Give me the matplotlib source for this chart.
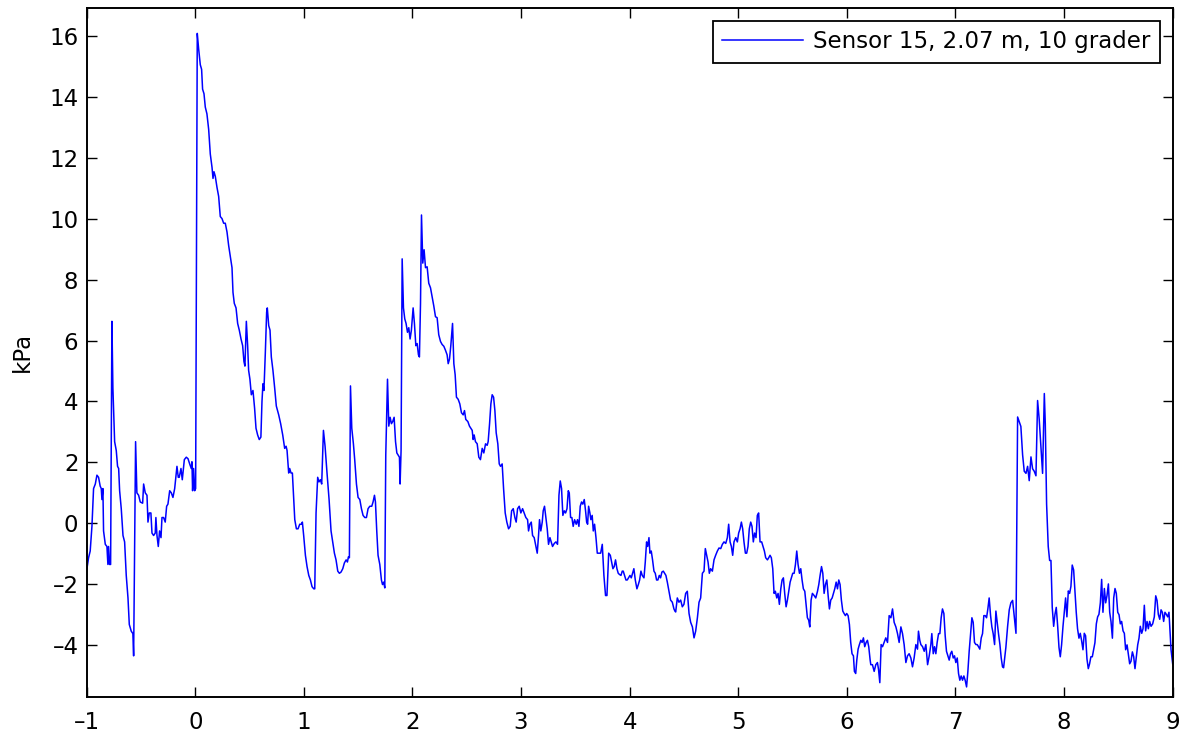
import matplotlib
matplotlib.use("Agg")
import matplotlib.pyplot as plt

# Time axis (s) and pressure (kPa)
t = [
    -0.998, -0.983, -0.968, -0.952, -0.937, -0.921, -0.906, -0.891, -0.876, -0.866,
    -0.860, -0.851, -0.845, -0.829, -0.814, -0.805, -0.799, -0.790, -0.780, -0.768,
    -0.759, -0.743, -0.728, -0.716, -0.706, -0.697, -0.682, -0.666, -0.651, -0.636,
    -0.620, -0.608, -0.590, -0.575, -0.568, -0.550, -0.538, -0.522, -0.507, -0.485,
    -0.476, -0.461, -0.445, -0.436, -0.424, -0.409, -0.399, -0.384, -0.369, -0.363,
    -0.353, -0.341, -0.329, -0.316, -0.307, -0.292, -0.277, -0.264, -0.252, -0.236,
    -0.221, -0.206, -0.190, -0.169, -0.157, -0.148, -0.132, -0.120, -0.101, -0.083,
    -0.067, -0.052, -0.037, -0.031, -0.025, -0.016, -0.006, 0.003,
    0.018, 0.031, 0.046, 0.058, 0.067, 0.080, 0.092, 0.107, 0.123, 0.138,
    0.154, 0.163, 0.172, 0.184, 0.200, 0.215, 0.230, 0.246, 0.261, 0.276,
    0.292, 0.307, 0.322, 0.338, 0.347, 0.359, 0.375, 0.390, 0.405, 0.421,
    0.436, 0.448, 0.457, 0.470, 0.482, 0.491, 0.503, 0.516, 0.531, 0.546,
    0.559, 0.574, 0.589, 0.604, 0.614, 0.623, 0.632, 0.645, 0.657, 0.663,
    0.676, 0.688, 0.700, 0.715, 0.731, 0.746, 0.768, 0.786, 0.805, 0.823,
    # zoom 2
    0.836, 0.845, 0.860, 0.869, 0.882, 0.894, 0.906, 0.916, 0.931, 0.946,
    0.962, 0.977, 0.986, 0.998, 1.014, 1.029, 1.045, 1.060, 1.075, 1.091,
    1.100, 1.112, 1.127, 1.139, 1.152, 1.164, 1.180, 1.195, 1.213, 1.232,
    1.250, 1.265, 1.281, 1.296, 1.312, 1.327, 1.342, 1.358, 1.373, 1.389,
    1.401, 1.410, 1.419, 1.429, 1.441, 1.456, 1.468, 1.484, 1.499, 1.515,
    1.530, 1.545, 1.561, 1.576, 1.591, 1.607, 1.625, 1.637, 1.650, 1.659,
    1.671, 1.683, 1.699, 1.714, 1.724, 1.735, 1.745, 1.754, 1.770, 1.782,
    1.794, 1.806, 1.818, 1.831, 1.844, 1.856, 1.868, 1.880, 1.886, 1.895,
    1.905, 1.917, 1.929, 1.941, 1.954, 1.966, 1.978, 1.990, 2.006, 2.018,
    2.031, 2.043, 2.055, 2.064, 2.074, 2.083, 2.095, 2.107, 2.120, 2.135,
    2.150, 2.166, 2.181, 2.196, 2.212, 2.227, 2.242, 2.258, 2.273, 2.289,
    2.304, 2.319, 2.329, 2.341, 2.353, 2.369, 2.381, 2.393, 2.405, 2.421,
    2.436, 2.451, 2.467, 2.479, 2.491, 2.510, 2.525, 2.537, 2.550, 2.559,
    2.568, 2.580, 2.596, 2.611, 2.626,
    # zoom 3
    2.642, 2.657, 2.673, 2.688, 2.697, 2.710, 2.722, 2.734, 2.747, 2.759,
    2.771, 2.786, 2.799, 2.811, 2.826, 2.839, 2.854, 2.869, 2.885, 2.900,
    2.913, 2.928, 2.943, 2.955, 2.968, 2.983, 2.998, 3.014, 3.029, 3.044,
    3.060, 3.069, 3.081, 3.094, 3.106, 3.121, 3.137, 3.149, 3.161, 3.170,
    3.182, 3.195, 3.204, 3.216, 3.229, 3.241, 3.253, 3.266, 3.278, 3.290,
    3.306, 3.321, 3.336, 3.349, 3.361, 3.373, 3.385, 3.398, 3.410, 3.423,
    3.435, 3.444, 3.456, 3.468, 3.480, 3.493, 3.508, 3.520, 3.533, 3.545,
    3.557, 3.569, 3.582, 3.594, 3.604, 3.613, 3.622, 3.634, 3.643, 3.655,
    3.665, 3.677, 3.690, 3.702, 3.717, 3.733, 3.748, 3.763, 3.778, 3.791,
    3.807, 3.822, 3.834, 3.846, 3.858, 3.870, 3.883, 3.895, 3.907, 3.920,
    3.932, 3.941, 3.953, 3.966, 3.978, 3.990, 4.003, 4.015, 4.027, 4.039,
    4.052, 4.067, 4.080, 4.092, 4.104, 4.116, 4.132, 4.144, 4.156, 4.166,
    4.178, 4.187, 4.199, 4.211, 4.224, 4.236, 4.248, 4.260, 4.273, 4.285,
    4.297, 4.310, 4.322, 4.334, 4.347, 4.362, 4.377, 4.393, 4.408, 4.417,
    # zoom 4
    4.424, 4.439, 4.454, 4.470, 4.485, 4.500, 4.516, 4.531, 4.547, 4.562,
    4.578, 4.593, 4.608, 4.624, 4.639, 4.654, 4.670, 4.685, 4.697, 4.710,
    4.722, 4.734, 4.746, 4.762, 4.777, 4.792, 4.808, 4.823, 4.839, 4.854,
    4.869, 4.885, 4.900, 4.912, 4.925, 4.937, 4.949, 4.961, 4.977, 4.992,
    5.004, 5.017, 5.029, 5.041, 5.053, 5.066, 5.078, 5.090, 5.102, 5.115,
    5.127, 5.139, 5.151, 5.164, 5.176, 5.188, 5.201, 5.216, 5.228, 5.241,
    5.253, 5.269, 5.281, 5.293, 5.305, 5.318, 5.330, 5.342, 5.355, 5.367,
    5.379, 5.392, 5.404, 5.416, 5.428, 5.441, 5.453, 5.465, 5.478, 5.490,
    5.502, 5.515, 5.527, 5.539, 5.551, 5.564, 5.576, 5.588, 5.600, 5.613,
    5.625, 5.637, 5.649, 5.659, 5.671, 5.683, 5.699, 5.714, 5.730, 5.742,
    5.754, 5.767, 5.779, 5.791, 5.803, 5.816, 5.828, 5.840, 5.852, 5.865,
    5.877, 5.889, 5.902, 5.914, 5.926, 5.938, 5.950, 5.963, 5.975, 5.987,
    5.999, 6.012, 6.024, 6.036, 6.048, 6.061, 6.070, 6.082, 6.092, 6.104,
    6.116, 6.129, 6.141, 6.153, 6.165, 6.178, 6.190, 6.202, 6.215,
    # zoom 5
    6.221, 6.236, 6.252, 6.267, 6.282, 6.292, 6.304, 6.316, 6.329, 6.344,
    6.359, 6.375, 6.390, 6.406, 6.421, 6.436, 6.452, 6.467, 6.482, 6.498,
    6.513, 6.528, 6.544, 6.559, 6.574, 6.590, 6.605, 6.620, 6.636, 6.651,
    6.660, 6.672, 6.682, 6.698, 6.713, 6.728, 6.744, 6.759, 6.774, 6.783,
    6.796, 6.808, 6.820, 6.832, 6.845, 6.857, 6.869, 6.881, 6.894, 6.906,
    6.918, 6.931, 6.943, 6.955, 6.967, 6.980, 6.992, 7.004, 7.017, 7.029,
    7.041, 7.053, 7.066, 7.078, 7.090, 7.103, 7.115, 7.127, 7.140, 7.152,
    7.164, 7.176, 7.189, 7.201, 7.213, 7.225, 7.238, 7.250, 7.262, 7.275,
    7.287, 7.299, 7.311, 7.324, 7.336, 7.348, 7.361, 7.373, 7.385, 7.397,
    7.410, 7.422, 7.434, 7.444,
    # zoom 6
    7.465, 7.481, 7.496, 7.511, 7.527, 7.542, 7.558, 7.573, 7.588, 7.603,
    7.619, 7.634, 7.650, 7.665, 7.680, 7.696, 7.711, 7.726, 7.742, 7.757,
    7.772, 7.788, 7.803, 7.819, 7.828, 7.840, 7.855, 7.868, 7.880, 7.892,
    7.905, 7.917, 7.929, 7.942, 7.954, 7.966, 7.978, 7.991, 8.003, 8.015,
    8.027, 8.040, 8.052, 8.064, 8.076, 8.089, 8.101, 8.113, 8.125, 8.138,
    8.150, 8.162, 8.175, 8.187, 8.199, 8.212, 8.224, 8.236, 8.248, 8.261,
    8.273, 8.285, 8.298, 8.310, 8.322, 8.335, 8.347, 8.359, 8.372, 8.384,
    8.396, 8.409, 8.421, 8.433, 8.446, 8.458, 8.470, 8.482, 8.495, 8.507,
    8.519, 8.531, 8.544, 8.556, 8.568, 8.581, 8.593, 8.605, 8.617, 8.630,
    8.642, 8.654, 8.666, 8.679, 8.691, 8.703, 8.716, 8.728, 8.740, 8.752,
    8.765, 8.777, 8.789, 8.802, 8.817, 8.832, 8.845, 8.857, 8.869, 8.882,
    8.894, 8.906, 8.918, 8.930, 8.943, 8.955, 8.967, 8.976, 8.986, 9.001,
]

p = [
    -1.49, -1.13, -0.91, -0.10, 1.14, 1.29, 1.58, 1.51, 1.22, 1.14,
    0.78, 1.14, -0.25, -0.69, -0.76, -1.35, -0.76, -1.35, -1.35, 6.63,
    4.44, 2.68, 2.39, 1.87, 1.80, 1.07, 0.48, -0.40, -0.61, -1.71,
    -2.45, -3.32, -3.54, -3.62, -4.35, 2.68, 1.00, 0.92, 0.70, 0.66,
    1.29, 1.00, 0.92, 0.04, 0.34, 0.34, -0.32, -0.40, -0.32, 0.19,
    -0.40, -0.76, -0.25, -0.47, 0.19, 0.19, 0.04, 0.56, 0.63, 1.07,
    1.00, 0.85, 1.14, 1.87, 1.51, 1.51, 1.80, 1.43, 2.09, 2.17,
    2.12, 1.95, 1.80, 2.02, 1.07, 1.80, 1.07, 1.14,
    16.08, 15.56, 15.05, 14.90, 14.25, 14.10, 13.66, 13.44, 12.93, 12.12,
    11.68, 11.32, 11.54, 11.39, 11.02, 10.73, 10.07, 10.00, 9.85, 9.85,
    9.56, 9.12, 8.76, 8.39, 7.58, 7.22, 7.07, 6.56, 6.34, 6.05,
    5.83, 5.31, 5.16, 6.63, 5.83, 5.02, 4.73, 4.22, 4.36, 3.78,
    3.12, 2.90, 2.75, 2.83, 4.00, 4.58, 4.36, 5.61, 6.93, 7.07,
    6.49, 6.34, 5.46, 5.02, 4.44, 3.85, 3.56, 3.27, 2.90, 2.46,
    # zoom 2
    2.53, 2.39, 1.65, 1.80, 1.65, 1.65, 0.78, 0.12, -0.18, -0.18,
    -0.03, -0.03, 0.04, -0.40, -1.05, -1.42, -1.71, -1.86, -2.08, -2.15,
    -2.15, 0.34, 1.51, 1.36, 1.43, 1.29, 3.05, 2.53, 1.65, 0.78,
    -0.25, -0.61, -0.98, -1.20, -1.57, -1.64, -1.60, -1.49, -1.30, -1.20,
    -1.27, -1.10, -1.13, 4.51, 3.12, 2.61, 2.09, 1.29, 0.85, 0.78,
    0.48, 0.26, 0.19, 0.19, 0.48, 0.56, 0.56, 0.70, 0.92, 0.70,
    -0.25, -1.05, -1.35, -1.86, -2.01, -1.93, -2.12, 2.24, 4.73, 3.19,
    3.48, 3.27, 3.34, 3.48, 2.68, 2.31, 2.24, 2.17, 1.29, 2.39,
    8.68, 7.07, 6.71, 6.56, 6.27, 6.42, 6.05, 6.34, 7.07, 6.56,
    5.83, 5.90, 5.53, 5.46, 7.22, 10.12, 8.54, 8.98, 8.39, 8.42,
    7.88, 7.73, 7.44, 7.14, 6.78, 6.75, 6.19, 5.97, 5.87, 5.81,
    5.68, 5.53, 5.24, 5.39, 5.83, 6.56, 5.24, 4.88, 4.14, 4.07,
    3.92, 3.63, 3.56, 3.70, 3.41, 3.34, 3.19, 3.12, 3.05, 2.75,
    2.90, 2.68, 2.61, 2.17, 2.09,
    # zoom 3
    2.46, 2.31, 2.61, 2.56, 2.68, 3.27, 3.92, 4.22, 4.14, 3.70,
    2.97, 2.61, 1.95, 1.87, 1.95, 1.14, 0.34, 0.04, -0.18, -0.10,
    0.41, 0.48, 0.19, 0.04, 0.48, 0.56, 0.34, 0.48, 0.34, 0.19,
    0.12, -0.25, -0.03, 0.04, -0.40, -0.47, -0.76, -0.98, -0.40, 0.12,
    -0.25, 0.04, 0.41, 0.56, 0.19, -0.18, -0.69, -0.47, -0.61, -0.76,
    -0.66, -0.61, -0.69, 0.92, 1.39, 1.14, 0.26, 0.41, 0.34, 0.48,
    1.07, 1.00, 0.19, 0.19, -0.10, 0.12, -0.03, 0.12, -0.10, 0.56,
    0.70, 0.63, 0.78, 0.41, 0.04, -0.03, 0.56, 0.34, 0.12, 0.26,
    -0.25, -0.03, -0.47, -0.98, -0.98, -0.98, -0.69, -1.71, -2.37, -2.37,
    -0.98, -1.05, -1.27, -1.49, -1.42, -1.20, -1.49, -1.64, -1.68, -1.71,
    -1.57, -1.57, -1.71, -1.86, -1.86, -1.79, -1.71, -1.79, -1.64, -1.49,
    -1.86, -2.15, -2.01, -1.86, -1.57, -1.71, -1.79, -1.27, -0.61, -0.76,
    -0.47, -0.98, -0.91, -1.20, -1.57, -1.64, -1.86, -1.86, -1.71, -1.79,
    -1.60, -1.57, -1.64, -1.71, -1.93, -2.23, -2.52, -2.59, -2.81, -2.88,
    # zoom 4
    -2.91, -2.45, -2.59, -2.52, -2.74, -2.66, -2.30, -2.23, -2.96, -3.25,
    -3.40, -3.76, -3.54, -3.10, -2.59, -2.45, -1.64, -1.57, -0.83, -1.05,
    -1.27, -1.64, -1.49, -1.57, -1.20, -1.05, -0.91, -0.81, -0.83, -0.69,
    -0.61, -0.66, -0.47, -0.03, -0.61, -0.76, -1.05, -0.61, -0.47, -0.61,
    -0.32, -0.18, 0.04, -0.18, -0.61, -0.98, -0.98, -0.76, -0.18, 0.04,
    -0.10, -0.61, -0.32, -0.47, 0.26, 0.34, -0.61, -0.61, -0.76, -0.91,
    -1.13, -1.20, -1.13, -1.05, -1.13, -1.49, -2.30, -2.23, -2.45, -2.30,
    -2.66, -2.15, -1.86, -1.79, -2.30, -2.74, -2.52, -2.23, -1.93, -1.79,
    -1.64, -1.64, -1.35, -0.91, -1.35, -1.64, -1.49, -1.86, -2.15, -2.23,
    -2.66, -3.10, -3.18, -3.40, -2.52, -2.30, -2.37, -2.45, -2.23, -2.01,
    -1.71, -1.42, -1.64, -2.30, -2.01, -1.86, -2.37, -2.81, -2.52, -2.45,
    -2.30, -2.15, -1.93, -2.15, -1.86, -2.01, -2.52, -2.88, -2.96, -3.03,
    -2.96, -3.03, -3.32, -3.91, -4.28, -4.35, -4.86, -4.93, -4.49, -4.13,
    -3.98, -3.84, -3.91, -3.76, -4.05, -3.91, -3.84, -4.05, -4.49,
    # zoom 5
    -4.64, -4.64, -4.86, -4.64, -4.57, -4.79, -5.23, -3.98, -4.05, -3.91,
    -3.76, -3.91, -3.03, -3.10, -2.81, -3.25, -3.40, -3.62, -3.91, -3.40,
    -3.62, -3.98, -4.57, -4.35, -4.28, -4.42, -4.71, -4.42, -3.98, -4.13,
    -3.54, -3.84, -3.98, -4.05, -4.20, -3.98, -4.64, -4.35, -3.98, -3.62,
    -4.28, -4.05, -4.28, -3.91, -3.62, -3.62, -3.10, -2.81, -2.96, -3.69,
    -4.20, -4.35, -4.49, -4.28, -4.20, -4.42, -4.35, -4.57, -4.42, -4.93,
    -5.15, -5.01, -5.15, -5.01, -5.15, -5.37, -4.86, -4.20, -3.62, -3.10,
    -3.25, -3.91, -3.98, -3.98, -4.05, -4.13, -3.76, -3.62, -3.03, -3.03,
    -3.10, -2.81, -2.45, -3.03, -3.40, -3.62, -3.98, -2.88, -3.25, -3.62,
    -3.98, -4.42, -4.71, -4.74,
    # zoom 6
    -4.07, -3.38, -2.84, -2.61, -2.53, -3.07, -3.61, 3.49, 3.33, 3.18,
    2.25, 1.71, 1.64, 1.87, 1.40, 2.18, 1.79, 1.71, 1.56, 4.03,
    3.41, 2.48, 1.64, 4.26, 3.26, 0.63, -0.76, -1.22, -1.22, -2.76,
    -3.38, -2.99, -2.76, -3.38, -4.07, -4.38, -3.99, -3.38, -2.92, -2.45,
    -3.07, -2.22, -2.30, -2.07, -1.37, -1.53, -2.22, -2.92, -3.46, -3.77,
    -3.61, -3.84, -4.15, -3.61, -3.69, -4.46, -4.77, -4.61, -4.38, -4.38,
    -4.15, -3.92, -3.30, -3.07, -2.99, -2.61, -1.84, -2.92, -2.14, -2.61,
    -2.38, -1.99, -2.92, -3.22, -3.77, -2.45, -2.14, -2.30, -2.92, -3.00,
    -3.30, -3.22, -3.53, -3.61, -4.15, -3.99, -4.30, -4.61, -4.53, -4.22,
    -4.38, -4.77, -4.38, -3.99, -3.77, -3.38, -3.61, -3.46, -2.69, -3.53,
    -3.22, -3.46, -3.22, -3.38, -3.30, -3.07, -2.38, -2.53, -2.99, -3.15,
    -2.84, -2.92, -3.22, -2.92, -2.99, -3.07, -2.92, -3.53, -4.15, -4.61,
]

legend_label = "Sensor 15, 2.07 m, 10 grader"
x_ticks = [-1, 0, 1, 2, 3, 4, 5, 6, 7, 8, 9]
y_ticks = [-4, -2, 0, 2, 4, 6, 8, 10, 12, 14, 16]

plt.rcParams['font.family'] = ['DejaVu Sans']
FS = 16.5

fig = plt.figure(figsize=(11.88, 7.38), dpi=100)
ax = fig.add_axes([0.073, 0.056, 0.914, 0.933])

ax.plot(t, p, color='#0000ff', linewidth=1.1, label=legend_label)

ax.set_xlim(-1, 9)
ax.set_ylim(-5.69, 16.91)
ax.set_xticks(x_ticks)
ax.set_yticks(y_ticks)
ax.set_xticklabels([str(v).replace('-', '\u2013') for v in x_ticks])
ax.set_yticklabels([str(v).replace('-', '\u2013') for v in y_ticks])
ax.tick_params(direction='in', length=7.2, width=1.0, labelsize=FS,
               top=True, right=True, colors='black')
ax.tick_params(axis='x', pad=10)
ax.tick_params(axis='y', pad=6)
for s in ax.spines.values():
    s.set_linewidth(1.4)
ax.set_ylabel('kPa', fontsize=FS, labelpad=11)

leg = ax.legend(loc='upper right', fontsize=FS, frameon=True, fancybox=False,
                framealpha=1.0, edgecolor='black', handlelength=3.5,
                borderpad=0.42, borderaxespad=0.55, handletextpad=0.45)
leg.get_frame().set_linewidth(1.3)

fig.savefig('out.png', dpi=100)
